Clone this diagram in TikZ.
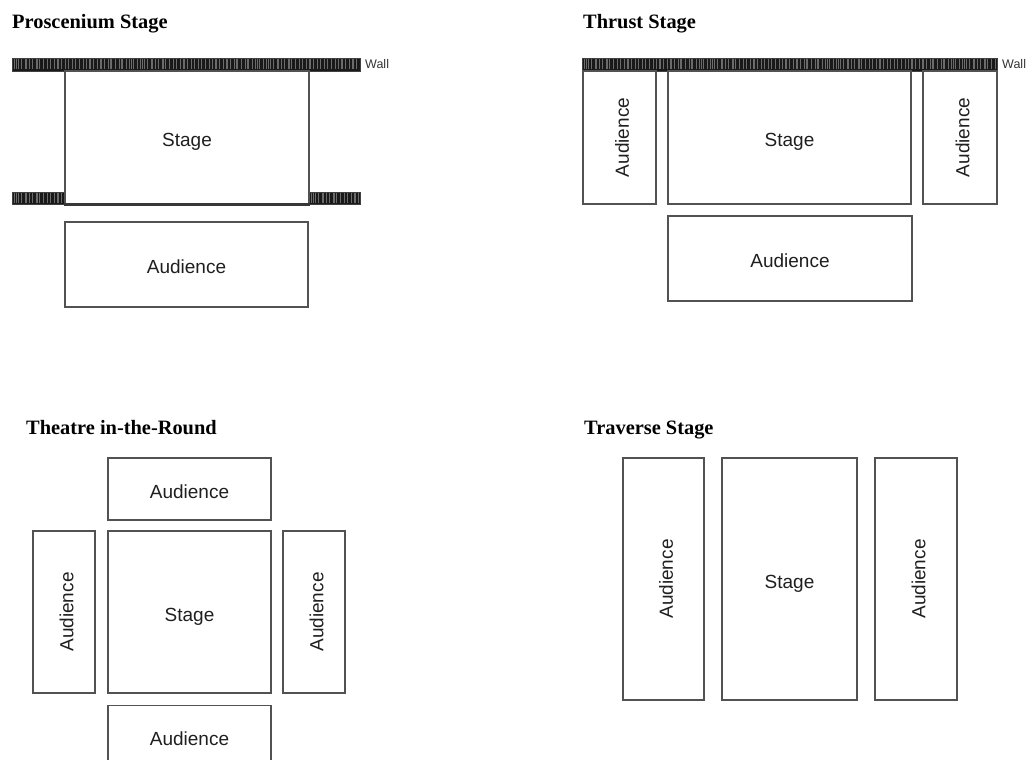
\documentclass[tikz,border=0pt]{standalone}
\usepackage{fontspec}
\setmainfont{Liberation Serif}
\setsansfont{Liberation Sans}
\begin{document}
\begin{tikzpicture}[x=1pt,y=-1pt,
  outline/.style={draw=black!68, line width=1.1pt},
  sanstext/.style={font=\sffamily\fontsize{19}{19}\selectfont, text=black!88, text height=18.5pt, text depth=0pt},
  area/.style={outline, inner sep=0pt, sanstext},
  vlabel/.style={rotate=90, inner sep=0pt, sanstext},
  title/.style={anchor=base west, inner sep=0pt, font=\bfseries\fontsize{20.4}{20.4}\selectfont},
  wall/.style={fill=black!90, draw=black!75, line width=0.6pt, inner sep=0pt},
  hatch/.style={draw=black!58, line width=0.45pt},
  walltext/.style={anchor=west, inner sep=0pt, font=\sffamily\fontsize{12.5}{12.5}\selectfont, text=black!80}]
\useasboundingbox (0,0) rectangle (1034,760);

% ---------------- Proscenium stage ----------------
\node[title] (tP) at (12,29) {Proscenium Stage};
\node[wall, minimum width=348pt, minimum height=13pt] (pwall) at (186,64.5) {};
\foreach \xx in {14.5,18.1,...,358} \draw[hatch] (\xx,59.5) -- (\xx,69.5);
\foreach \xx in {16,26.5,...,358} \draw[hatch] (\xx,59.5) -- (\xx,69.5);
\node[walltext] (pwalltxt) at (365,64.5) {Wall};
\node[wall, minimum width=53pt, minimum height=12pt] (pwallL) at (38.5,198) {};
\foreach \xx in {14.5,18.1,...,64} \draw[hatch] (\xx,193) -- (\xx,203);
\foreach \xx in {16,26.5,...,64} \draw[hatch] (\xx,193) -- (\xx,203);
\node[wall, minimum width=51pt, minimum height=12pt] (pwallR) at (334.5,198) {};
\foreach \xx in {311.5,315.1,...,359} \draw[hatch] (\xx,193) -- (\xx,203);
\foreach \xx in {313,323.5,...,359} \draw[hatch] (\xx,193) -- (\xx,203);
\node[area, minimum width=244pt, minimum height=133pt] (pstage) at (187,137.5) {Stage};
\draw[draw=black!78, line width=2.2pt] (pstage.south west) -- (pstage.south east);
\node[area, minimum width=243pt, minimum height=85pt] (paud) at (186.5,264.5) {Audience};

% ---------------- Thrust stage ----------------
\node[title] (tT) at (583,29) {Thrust Stage};
\node[wall, minimum width=415pt, minimum height=13pt] (twall) at (789.5,64.5) {};
\foreach \xx in {584.5,588.1,...,996} \draw[hatch] (\xx,59.5) -- (\xx,69.5);
\foreach \xx in {586,596.5,...,996} \draw[hatch] (\xx,59.5) -- (\xx,69.5);
\node[walltext] (twalltxt) at (1002,64.5) {Wall};
\node[area, minimum width=73pt, minimum height=133pt] (taudL) at (619.5,137.5) {};
\node[vlabel] at (taudL.center) {Audience};
\node[area, minimum width=243pt, minimum height=133pt] (tstage) at (789.5,137.5) {Stage};
\node[area, minimum width=74pt, minimum height=133pt] (taudR) at (960,137.5) {};
\node[vlabel] at (taudR.center) {Audience};
\node[area, minimum width=244pt, minimum height=85pt] (taudB) at (790,258.5) {Audience};

% ---------------- Theatre in-the-round ----------------
\node[title] (tR) at (26,434) {Theatre in-the-Round};
\node[area, minimum width=163pt, minimum height=62pt] (raudT) at (189.5,489) {Audience};
\node[area, minimum width=62pt, minimum height=162pt] (raudL) at (64,612) {};
\node[vlabel] at (raudL.center) {Audience};
\node[area, minimum width=163pt, minimum height=162pt] (rstage) at (189.5,612) {Stage};
\node[area, minimum width=62pt, minimum height=162pt] (raudR) at (314,612) {};
\node[vlabel] at (raudR.center) {Audience};
\node[area, minimum width=163pt, minimum height=62pt, anchor=north] (raudB) at (189.5,705) {};
\node[inner sep=0pt, sanstext] at (189.5,736) {Audience};

% ---------------- Traverse stage ----------------
\node[title] (tV) at (584,434) {Traverse Stage};
\node[area, minimum width=81pt, minimum height=242pt] (vaudL) at (663.5,579) {};
\node[vlabel] at (vaudL.center) {Audience};
\node[area, minimum width=135pt, minimum height=242pt] (vstage) at (789.5,579) {Stage};
\node[area, minimum width=82pt, minimum height=242pt] (vaudR) at (916,579) {};
\node[vlabel] at (vaudR.center) {Audience};
\end{tikzpicture}
\end{document}
